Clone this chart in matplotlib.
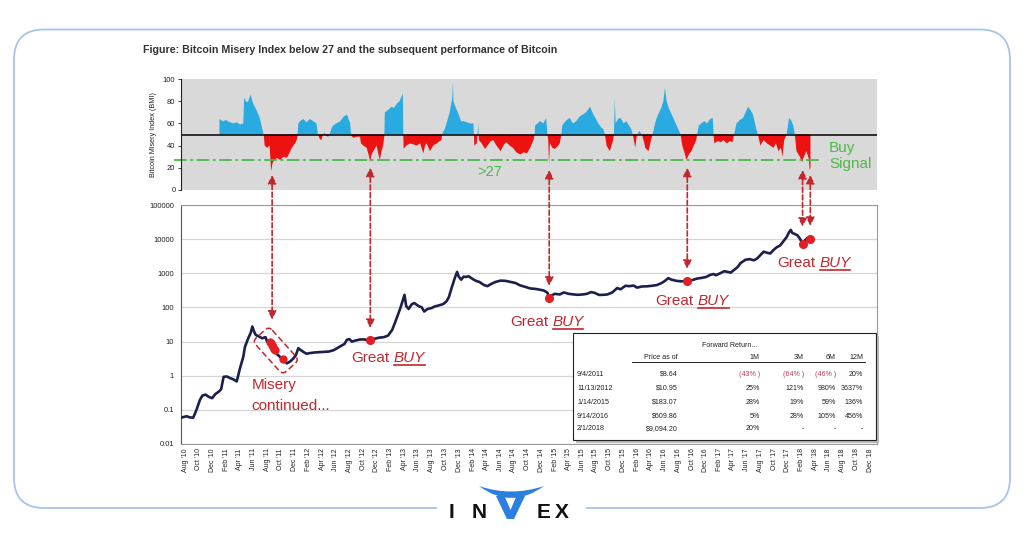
import matplotlib
matplotlib.use('Agg')
import numpy as np
import matplotlib.pyplot as plt
import matplotlib.dates as mdates
import matplotlib.transforms as mtransforms
from matplotlib.patches import FancyBboxPatch, ConnectionPatch, PathPatch, Rectangle, Polygon
from matplotlib.path import Path
from matplotlib.lines import Line2D
from matplotlib.ticker import FixedLocator, FixedFormatter, NullLocator
from datetime import datetime

plt.rcParams['font.family'] = ['Liberation Sans', 'DejaVu Sans']

# ---------------- data (decimal years) ----------------
bmi_year = [2011.00, 2011.04, 2011.08, 2011.13, 2011.17, 2011.21, 2011.25, 2011.29, 2011.30, 2011.33,
            2011.35, 2011.38, 2011.40, 2011.41, 2011.45, 2011.49, 2011.53, 2011.54, 2011.55, 2011.58,
            2011.61, 2011.625, 2011.63, 2011.645, 2011.66, 2011.70, 2011.74, 2011.78, 2011.82, 2011.85,
            2011.88, 2011.92, 2011.94, 2011.95, 2011.96, 2011.98, 2012.02, 2012.06, 2012.10, 2012.14,
            2012.18, 2012.20, 2012.22, 2012.24, 2012.26, 2012.28, 2012.30, 2012.32, 2012.34, 2012.36,
            2012.38, 2012.42, 2012.47, 2012.51, 2012.55, 2012.57, 2012.59, 2012.60, 2012.63, 2012.67,
            2012.71, 2012.72, 2012.75, 2012.79, 2012.82, 2012.83, 2012.85, 2012.87, 2012.91, 2012.93,
            2012.95, 2012.97, 2012.99, 2013.005, 2013.01, 2013.05, 2013.09, 2013.12, 2013.16, 2013.19,
            2013.23, 2013.235, 2013.24, 2013.27, 2013.32, 2013.36, 2013.40, 2013.44, 2013.48, 2013.50,
            2013.52, 2013.56, 2013.60, 2013.64, 2013.68, 2013.70, 2013.71, 2013.74, 2013.77, 2013.80,
            2013.83, 2013.84, 2013.845, 2013.87, 2013.91, 2013.94, 2013.97, 2014.01, 2014.05, 2014.09,
            2014.095, 2014.10, 2014.13, 2014.15, 2014.155, 2014.19, 2014.23, 2014.26, 2014.30, 2014.33,
            2014.37, 2014.42, 2014.46, 2014.49, 2014.53, 2014.57, 2014.61, 2014.66, 2014.70, 2014.74,
            2014.78, 2014.82, 2014.835, 2014.84, 2014.87, 2014.90, 2014.94, 2014.975, 2014.99, 2015.00,
            2015.01, 2015.02, 2015.05, 2015.08, 2015.12, 2015.14, 2015.16, 2015.17, 2015.21, 2015.26,
            2015.30, 2015.34, 2015.38, 2015.42, 2015.46, 2015.51, 2015.55, 2015.58, 2015.61, 2015.65,
            2015.67, 2015.69, 2015.71, 2015.75, 2015.79, 2015.80, 2015.81, 2015.82, 2015.85, 2015.88,
            2015.92, 2015.95, 2016.01, 2016.03, 2016.06, 2016.08, 2016.11, 2016.14, 2016.17, 2016.18,
            2016.22, 2016.25, 2016.27, 2016.30, 2016.32, 2016.35, 2016.38, 2016.40, 2016.42, 2016.44,
            2016.46, 2016.49, 2016.52, 2016.55, 2016.58, 2016.61, 2016.63, 2016.66, 2016.68, 2016.71,
            2016.74, 2016.77, 2016.80, 2016.81, 2016.83, 2016.86, 2016.90, 2016.93, 2016.97, 2017.00,
            2017.01, 2017.02, 2017.06, 2017.10, 2017.13, 2017.17, 2017.21, 2017.24, 2017.26, 2017.29,
            2017.33, 2017.37, 2017.40, 2017.43, 2017.46, 2017.49, 2017.53, 2017.55, 2017.58, 2017.62,
            2017.66, 2017.70, 2017.74, 2017.77, 2017.80, 2017.83, 2017.85, 2017.87, 2017.90, 2017.93,
            2017.96, 2017.98, 2018.00, 2018.02, 2018.06, 2018.09, 2018.10, 2018.14, 2018.17, 2018.18,
            2018.19]
bmi_value = [64, 62, 63, 61, 60, 61, 59, 60, 83, 79,
             80, 86, 80, 78, 72, 65, 52, 49, 40, 38,
             40, 22, 17, 24, 26, 29, 27, 30, 29, 33,
             38, 42, 45, 49, 60, 62, 64, 61, 64, 62,
             60, 50, 46, 45, 50, 52, 49, 48, 50, 55,
             58, 60, 62, 66, 68, 64, 60, 49, 47, 48,
             48, 42, 40, 38, 30, 25, 32, 35, 40, 33,
             27, 35, 40, 49, 70, 72, 75, 74, 78, 80,
             87, 50, 37, 40, 42, 41, 40, 42, 33, 40,
             42, 35, 40, 42, 44, 45, 51, 55, 62, 70,
             82, 97, 80, 75, 68, 62, 62, 61, 60, 60,
             50, 40, 42, 60, 45, 42, 37, 40, 44, 45,
             40, 35, 41, 43, 40, 38, 34, 32, 34, 33,
             38, 45, 50, 58, 60, 62, 60, 65, 50, 45,
             23, 42, 38, 37, 40, 42, 50, 58, 62, 65,
             60, 62, 66, 68, 70, 75, 68, 64, 60, 56,
             55, 50, 40, 35, 45, 50, 82, 60, 64, 65,
             60, 62, 55, 50, 38, 50, 53, 50, 42, 38,
             35, 45, 50, 60, 65, 70, 75, 80, 92, 80,
             75, 70, 65, 60, 55, 50, 40, 33, 27, 32,
             35, 40, 45, 50, 58, 60, 62, 60, 64, 65,
             50, 42, 44, 43, 45, 42, 44, 43, 50, 60,
             63, 65, 70, 75, 72, 68, 55, 50, 40, 45,
             42, 40, 38, 42, 35, 38, 30, 45, 50, 65,
             62, 58, 50, 35, 30, 25, 28, 35, 28, 18,
             20]

price_year = [2010.53, 2010.60, 2010.64, 2010.68, 2010.72, 2010.76, 2010.79, 2010.83, 2010.87, 2010.91,
              2010.95, 2010.99, 2011.02, 2011.05, 2011.09, 2011.13, 2011.17, 2011.21, 2011.25, 2011.29,
              2011.31, 2011.35, 2011.38, 2011.40, 2011.42, 2011.44, 2011.48, 2011.52, 2011.56, 2011.58,
              2011.62, 2011.64, 2011.67, 2011.70, 2011.74, 2011.78, 2011.82, 2011.86, 2011.90, 2011.93,
              2011.96, 2011.99, 2012.02, 2012.06, 2012.10, 2012.16, 2012.22, 2012.27, 2012.33, 2012.39,
              2012.43, 2012.48, 2012.52, 2012.55, 2012.58, 2012.61, 2012.66, 2012.71, 2012.76, 2012.80,
              2012.834, 2012.88, 2012.94, 2013.00, 2013.05, 2013.10, 2013.14, 2013.20, 2013.25, 2013.27,
              2013.30, 2013.34, 2013.37, 2013.42, 2013.46, 2013.49, 2013.53, 2013.58, 2013.62, 2013.67,
              2013.72, 2013.76, 2013.79, 2013.82, 2013.86, 2013.89, 2013.91, 2013.94, 2013.97, 2014.00,
              2014.03, 2014.08, 2014.12, 2014.16, 2014.22, 2014.26, 2014.30, 2014.36, 2014.42, 2014.48,
              2014.54, 2014.60, 2014.66, 2014.72, 2014.78, 2014.84, 2014.90, 2014.95, 2014.99, 2015.012,
              2015.04, 2015.08, 2015.14, 2015.19, 2015.25, 2015.31, 2015.36, 2015.42, 2015.47, 2015.52,
              2015.56, 2015.62, 2015.67, 2015.72, 2015.78, 2015.84, 2015.88, 2015.94, 2015.99, 2016.04,
              2016.08, 2016.14, 2016.20, 2016.26, 2016.32, 2016.38, 2016.42, 2016.46, 2016.50, 2016.56,
              2016.62, 2016.691, 2016.75, 2016.81, 2016.86, 2016.92, 2016.97, 2017.01, 2017.04, 2017.09,
              2017.14, 2017.18, 2017.22, 2017.26, 2017.30, 2017.34, 2017.40, 2017.45, 2017.50, 2017.54,
              2017.58, 2017.62, 2017.66, 2017.70, 2017.74, 2017.78, 2017.82, 2017.86, 2017.90, 2017.93,
              2017.95, 2017.97, 2017.99, 2018.03, 2018.06, 2018.094, 2018.12, 2018.15, 2018.18, 2018.20]
price_value = [0.059, 0.065, 0.060, 0.059, 0.10, 0.19, 0.26, 0.28, 0.24, 0.22,
               0.29, 0.34, 0.40, 0.93, 0.95, 0.85, 0.78, 0.68, 1.66, 3.6,
               7.0, 12.5, 18, 27.6, 20, 15.8, 14, 12.5, 13.5, 10,
               9.5, 8.0, 5.5, 4.3, 3.5, 2.9, 2.3, 2.6, 3.2, 4.0,
               6.4, 5.6, 5.0, 4.4, 4.6, 4.8, 4.9, 5.0, 5.1, 5.6,
               6.4, 7.5, 8.5, 11.3, 11.8, 10.0, 10.8, 11.5, 11.6, 10.8,
               10.5, 12.0, 13.0, 13.5, 15, 22, 39, 96, 234, 110,
               90, 125, 134, 110, 100, 76, 90, 96, 107, 115,
               125, 150, 200, 350, 700, 1100, 800, 650, 800, 780,
               820, 680, 600, 560, 450, 420, 480, 560, 610, 600,
               560, 520, 440, 400, 360, 350, 330, 310, 270, 190,
               225, 250, 240, 275, 250, 240, 234, 240, 250, 280,
               270, 232, 234, 240, 275, 370, 340, 430, 420, 437,
               380, 410, 415, 430, 450, 520, 600, 720, 650, 600,
               580, 609, 630, 700, 730, 780, 900, 950, 880, 1000,
               1150, 1100, 1050, 1250, 1500, 2000, 2500, 2600, 2400, 2700,
               3400, 4300, 4000, 3800, 4800, 5800, 6500, 8600, 11500, 16000,
               18600, 15000, 14500, 13000, 10500, 7300, 9000, 10700, 10000, 10500]

misery_dot_year = [2011.62, 2011.63, 2011.64, 2011.65, 2011.66, 2011.67, 2011.77]
misery_dot_price = [9.5, 8.8, 8.0, 7.0, 6.2, 5.5, 3.0]
buy_dot_year = [2012.834, 2015.012, 2016.691, 2018.094, 2018.18]
buy_dot_price = [10.95, 183.07, 609.86, 7300, 10000]
signal_year = [2011.641, 2012.834, 2015.012, 2016.691, 2018.094, 2018.188]

buy_threshold = 27
bmi_neutral = 50
bmi_ticks = [0, 20, 40, 60, 80, 100]
price_ticks = [0.01, 0.1, 1, 10, 100, 1000, 10000, 100000]
price_tick_labels = ['0.01', '0.1', '1', '10', '100', '1000', '10000', '100000']

table_dates = ['9/4/2011', '11/13/2012', '1/14/2015', '9/14/2016', '2/1/2018']
table_prices = ['$8.64', '$10.95', '$183.07', '$609.86', '$9,094.20']
ret_1m = ['(43% )', '25%', '28%', '5%', '20%']
ret_3m = ['(64% )', '121%', '19%', '28%', '-']
ret_6m = ['(46% )', '980%', '59%', '105%', '-']
ret_12m = ['20%', '3637%', '136%', '456%', '-']
table_cols = ['1M', '3M', '6M', '12M']

title = 'Figure: Bitcoin Misery Index below 27 and the subsequent performance of Bitcoin'


def yr2num(v):
    out = []
    for t in np.atleast_1d(v):
        y = int(np.floor(t))
        a, b = datetime(y, 1, 1), datetime(y + 1, 1, 1)
        out.append(mdates.date2num(a + (b - a) * (t - y)))
    return np.array(out)


# ---------------- figure ----------------
W, H = 1024, 538
fig = plt.figure(figsize=(W / 100, H / 100), dpi=100)
fig.patch.set_facecolor('white')
# pixel coordinates, origin top-left
T = mtransforms.Affine2D().scale(1, -1).translate(0, H).scale(0.01) + fig.dpi_scale_trans

RED_TXT = '#c1272d'
GREEN = '#4cb848'
xmin, xmax = mdates.date2num(datetime(2010, 7, 14)), mdates.date2num(datetime(2019, 1, 1))

# ---- BMI panel ----
ax_b = fig.add_axes([181 / W, 1 - 190 / H, 696 / W, 111 / H])
ax_b.set_facecolor('#d9d9d9')
ax_b.set_xlim(xmin, xmax)
ax_b.set_ylim(0, 100)
bx = yr2num(bmi_year)
bv = np.array(bmi_value, dtype=float)
ax_b.fill_between(bx, bmi_neutral, bv, where=bv >= bmi_neutral, interpolate=True,
                  color='#29abe2', lw=0)
ax_b.fill_between(bx, bmi_neutral, bv, where=bv <= bmi_neutral, interpolate=True,
                  color='#ee1111', lw=0)
ax_b.axhline(bmi_neutral, color='black', lw=1.1)
ax_b.plot([-0.01, 0.918], [buy_threshold, buy_threshold], transform=ax_b.get_yaxis_transform(),
          color=GREEN, lw=1.3, ls=(0, (7, 2, 1.5, 2)), clip_on=False)
for s in ['top', 'right', 'bottom']:
    ax_b.spines[s].set_visible(False)
ax_b.spines['left'].set_color('#222222')
ax_b.spines['left'].set_linewidth(0.8)
ax_b.xaxis.set_major_locator(NullLocator())
ax_b.yaxis.set_major_locator(FixedLocator(bmi_ticks))
ax_b.tick_params(axis='y', labelsize=5.5, length=2, width=0.6, pad=2, colors='#222222')
ax_b.set_ylabel('Bitcoin Misery Index (BMI)', fontsize=5.2, labelpad=4, color='#222222')

# ---- price panel ----
ax_p = fig.add_axes([181 / W, 1 - 444 / H, 696 / W, 239 / H])
ax_p.set_yscale('log')
ax_p.set_xlim(xmin, xmax)
ax_p.set_ylim(0.01, 100000)
ax_p.yaxis.set_major_locator(FixedLocator(price_ticks))
ax_p.yaxis.set_major_formatter(FixedFormatter(price_tick_labels))
ax_p.yaxis.set_minor_locator(NullLocator())
ax_p.grid(axis='y', color='#d6d6d6', lw=0.9)
ax_p.set_axisbelow(True)
ax_p.xaxis.set_major_locator(mdates.MonthLocator(bymonth=(2, 4, 6, 8, 10, 12)))
ax_p.xaxis.set_major_formatter(mdates.DateFormatter("%b '%y"))
ax_p.tick_params(axis='x', labelsize=5, rotation=90, length=0, pad=3, colors='#222222')
ax_p.tick_params(axis='y', labelsize=5.5, length=0, pad=5, colors='#222222')
for s in ['top', 'right', 'bottom']:
    ax_p.spines[s].set_color('#9a9a9a')
ax_p.spines['left'].set_color('#555555')
ax_p.plot(yr2num(price_year), price_value, color='#1b1f4b', lw=1.9, zorder=3)
ax_p.plot(yr2num(misery_dot_year), misery_dot_price, 'o', color='#e31e24', ms=5, zorder=4)
ax_p.plot(yr2num(buy_dot_year), buy_dot_price, 'o', color='#e31e24', ms=5.5, zorder=4)

# ---- arrows from BMI signal to price ----
arrow_top = [13.5, 20, 18, 20, 18, 13.5]
arrow_bottom = [44, 25, 430, 1350, 23000, 24500]
for yv, a, b in zip(yr2num(signal_year), arrow_top, arrow_bottom):
    cp = ConnectionPatch(xyA=(yv, a), coordsA=ax_b.transData, xyB=(yv, b), coordsB=ax_p.transData,
                         arrowstyle='<|-|>,head_length=0.5,head_width=0.25', mutation_scale=10,
                         color=RED_TXT, lw=1.2, linestyle=(0, (3, 1.6)), shrinkA=0, shrinkB=0)
    fig.add_artist(cp)

# ---- misery dashed box ----
mbox = FancyBboxPatch((-22.5, -11), 45, 22, boxstyle='round,pad=0,rounding_size=5',
                      transform=mtransforms.Affine2D().rotate_deg(48).translate(275.8, 350.5) + T,
                      fill=False, edgecolor=RED_TXT, lw=1.1, linestyle=(0, (4, 2)))
fig.add_artist(mbox)

# ---- texts ----
fig.text(142.7, 53, title, transform=T, fontsize=7.7, fontweight='bold', color='#333333', va='baseline')
fig.text(251.7, 389, 'Misery', transform=T, fontsize=11, color=RED_TXT, va='baseline')
fig.text(251.7, 410, 'continued...', transform=T, fontsize=11, color=RED_TXT, va='baseline')
fig.text(829, 152, 'Buy', transform=T, fontsize=11, color=GREEN, va='baseline')
fig.text(829, 168, 'Signal', transform=T, fontsize=11, color=GREEN, va='baseline')
fig.text(477, 176, '>27', transform=T, fontsize=10.5, color=GREEN, va='baseline')

gb_pos = [(351.7, 362), (510, 326), (655.7, 305), (777.3, 267)]
great_texts = [fig.text(x, y, 'Great', transform=T, fontsize=11, color=RED_TXT, va='baseline')
               for (x, y) in gb_pos]
fig.canvas.draw()
r = fig.canvas.get_renderer()
Tinv = T.inverted()
buy_texts = []
for t, (x, y) in zip(great_texts, gb_pos):
    bb = t.get_window_extent(r)
    x1 = Tinv.transform((bb.x1, bb.y0))[0]
    buy_texts.append(fig.text(x1 + 4, y, 'BUY', transform=T, fontsize=11, fontstyle='italic',
                              color=RED_TXT, va='baseline'))
fig.canvas.draw()
r = fig.canvas.get_renderer()
for t, (x, y) in zip(buy_texts, gb_pos):
    bb = t.get_window_extent(r)
    xa = Tinv.transform((bb.x0, bb.y0))[0]
    xb = Tinv.transform((bb.x1, bb.y0))[0]
    fig.add_artist(Line2D([xa + 0.5, xb - 0.5], [y + 2.5, y + 2.5], transform=T, color=RED_TXT, lw=1.2))

# ---- table ----
fig.add_artist(Rectangle((575.5, 335.5), 303, 107, transform=T, facecolor='#b8b8b8', edgecolor='none', zorder=2))
fig.add_artist(Rectangle((573, 333), 303, 107, transform=T, facecolor='white', edgecolor='#222222',
                         lw=0.8, zorder=2.1))
tfs = 5.1
fig.text(730, 347, 'Forward Return...', transform=T, fontsize=tfs, ha='center', va='baseline', color='#222222')
fig.text(678, 359, 'Price as of', transform=T, fontsize=tfs, ha='right', va='baseline', color='#222222')
col_x = [760, 804, 836, 863]
for cx, lab in zip(col_x, table_cols):
    fig.text(cx, 359, lab, transform=T, fontsize=tfs, ha='right', va='baseline', color='#222222')
fig.add_artist(Line2D([632, 865], [362, 362], transform=T, color='#222222', lw=0.7, zorder=3))
row_y = [375.5, 390, 404, 417.5, 430.5]
for i, ry in enumerate(row_y):
    fig.text(577, ry, table_dates[i], transform=T, fontsize=tfs, ha='left', va='baseline', color='#222222')
    fig.text(678, ry, table_prices[i], transform=T, fontsize=tfs, ha='right', va='baseline', color='#222222')
    for cx, col in zip(col_x, [ret_1m, ret_3m, ret_6m, ret_12m]):
        v = col[i]
        c = '#c8385a' if v.startswith('(') else '#222222'
        fig.text(cx, ry, v, transform=T, fontsize=tfs, ha='right', va='baseline', color=c)

# ---- frame ----
fig.add_artist(FancyBboxPatch((14, 29.5), 996, 478.5, boxstyle='round,pad=0,rounding_size=30',
                              transform=T, facecolor='none', edgecolor='#a7c4ea', lw=1.3, zorder=1))
fig.add_artist(Rectangle((437, 502), 149, 12, transform=T, facecolor='white', edgecolor='none', zorder=2))

# ---- logo ----
for ch, x in zip(['I', 'N', 'E', 'X'], [451.5, 479, 543.5, 561.5]):
    fig.text(x, 518, ch, transform=T, fontsize=15, fontweight='bold', ha='center', va='baseline',
             color='#111111', zorder=5)
LOGO_BLUE = '#2b7fe0'
fig.add_artist(Polygon([(496, 496), (504.5, 496), (510.5, 510), (516.5, 496), (525, 496), (514, 519), (507, 519)],
                       closed=True, transform=T, facecolor=LOGO_BLUE, edgecolor='none', zorder=5))
horn = Path([(479, 486), (511, 510), (544, 486), (511, 497), (479, 486)],
            [Path.MOVETO, Path.CURVE3, Path.CURVE3, Path.CURVE3, Path.CURVE3])
fig.add_artist(PathPatch(horn, transform=T, facecolor=LOGO_BLUE, edgecolor='none', zorder=5))

fig.savefig('out.png', dpi=100)
